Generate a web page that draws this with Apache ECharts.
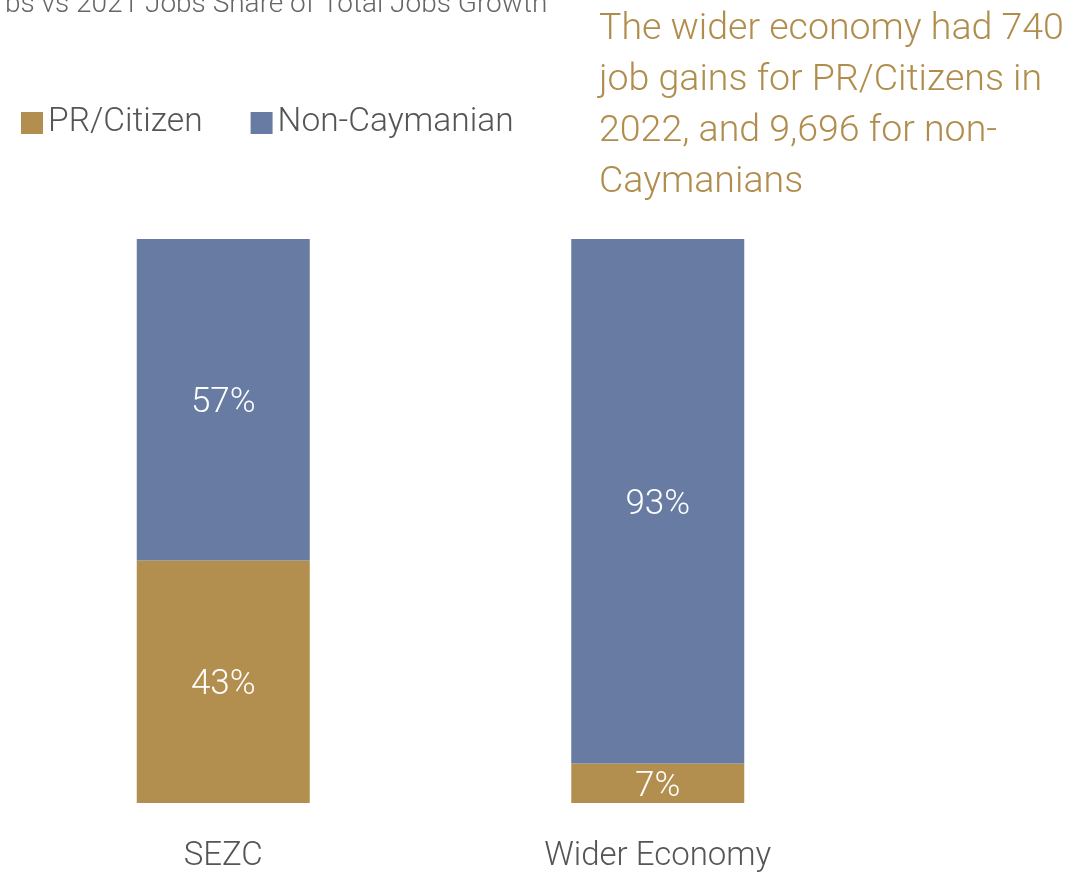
<!DOCTYPE html>
<html><head><meta charset="utf-8">
<script src="https://cdn.jsdelivr.net/npm/echarts@6/dist/echarts.min.js"></script>
<style>html,body{margin:0;padding:0;background:#fff}#c{width:1091px;height:874px}</style>
</head><body><div id="c"></div>
<script>
const categories = ['SEZC', 'Wider Economy'];
const prCitizen = [43, 7];
const nonCaymanian = [57, 93];
const titleText = 'bs vs 2021 Jobs Share of Total Jobs Growth';
const noteLines = ['The wider economy had 740', 'job gains for PR/Citizens in', '2022, and 9,696 for non-', 'Caymanians'];

const FONT = 'Roboto, sans-serif';
const chart = echarts.init(document.getElementById('c'));
chart.setOption({
  animation: false,
  title: [{
    text: titleText, left: 0, top: -14,
    textStyle: { fontFamily: FONT, fontSize: 28, fontWeight: 300, color: '#666' }
  }, {
    text: noteLines.join('\n'), left: 594, top: -1,
    textStyle: { fontFamily: FONT, fontSize: 37.5, fontWeight: 300, color: '#b08d4c', lineHeight: 51 }
  }],
  legend: {
    left: 16, top: 101, itemWidth: 22, itemHeight: 22, itemGap: 48,
    icon: 'rect',
    textStyle: { fontFamily: FONT, fontSize: 33.5, fontWeight: 300, color: '#555' },
    data: ['PR/Citizen', 'Non-Caymanian']
  },
  grid: { left: 6, width: 869, top: 239, bottom: 71, containLabel: false },
  xAxis: {
    type: 'category', data: categories,
    axisLine: { show: false }, axisTick: { show: false },
    axisLabel: { fontFamily: FONT, fontSize: 33, fontWeight: 300, color: '#555', margin: 37 }
  },
  yAxis: { type: 'value', min: 0, max: 100, show: false, splitLine: { show: false } },
  series: [{
    name: 'PR/Citizen', type: 'bar', stack: 's', barWidth: 173, data: prCitizen,
    itemStyle: { color: '#b28f4e' },
    label: { show: true, position: 'inside', offset: [0, 4], formatter: '{c}%', fontFamily: FONT, fontSize: 35, fontWeight: 300, color: '#fff' }
  }, {
    name: 'Non-Caymanian', type: 'bar', stack: 's', barWidth: 173, data: nonCaymanian,
    itemStyle: { color: '#677ba3' },
    label: { show: true, position: 'inside', offset: [0, 4], formatter: '{c}%', fontFamily: FONT, fontSize: 35, fontWeight: 300, color: '#fff' }
  }]
});
</script></body></html>
